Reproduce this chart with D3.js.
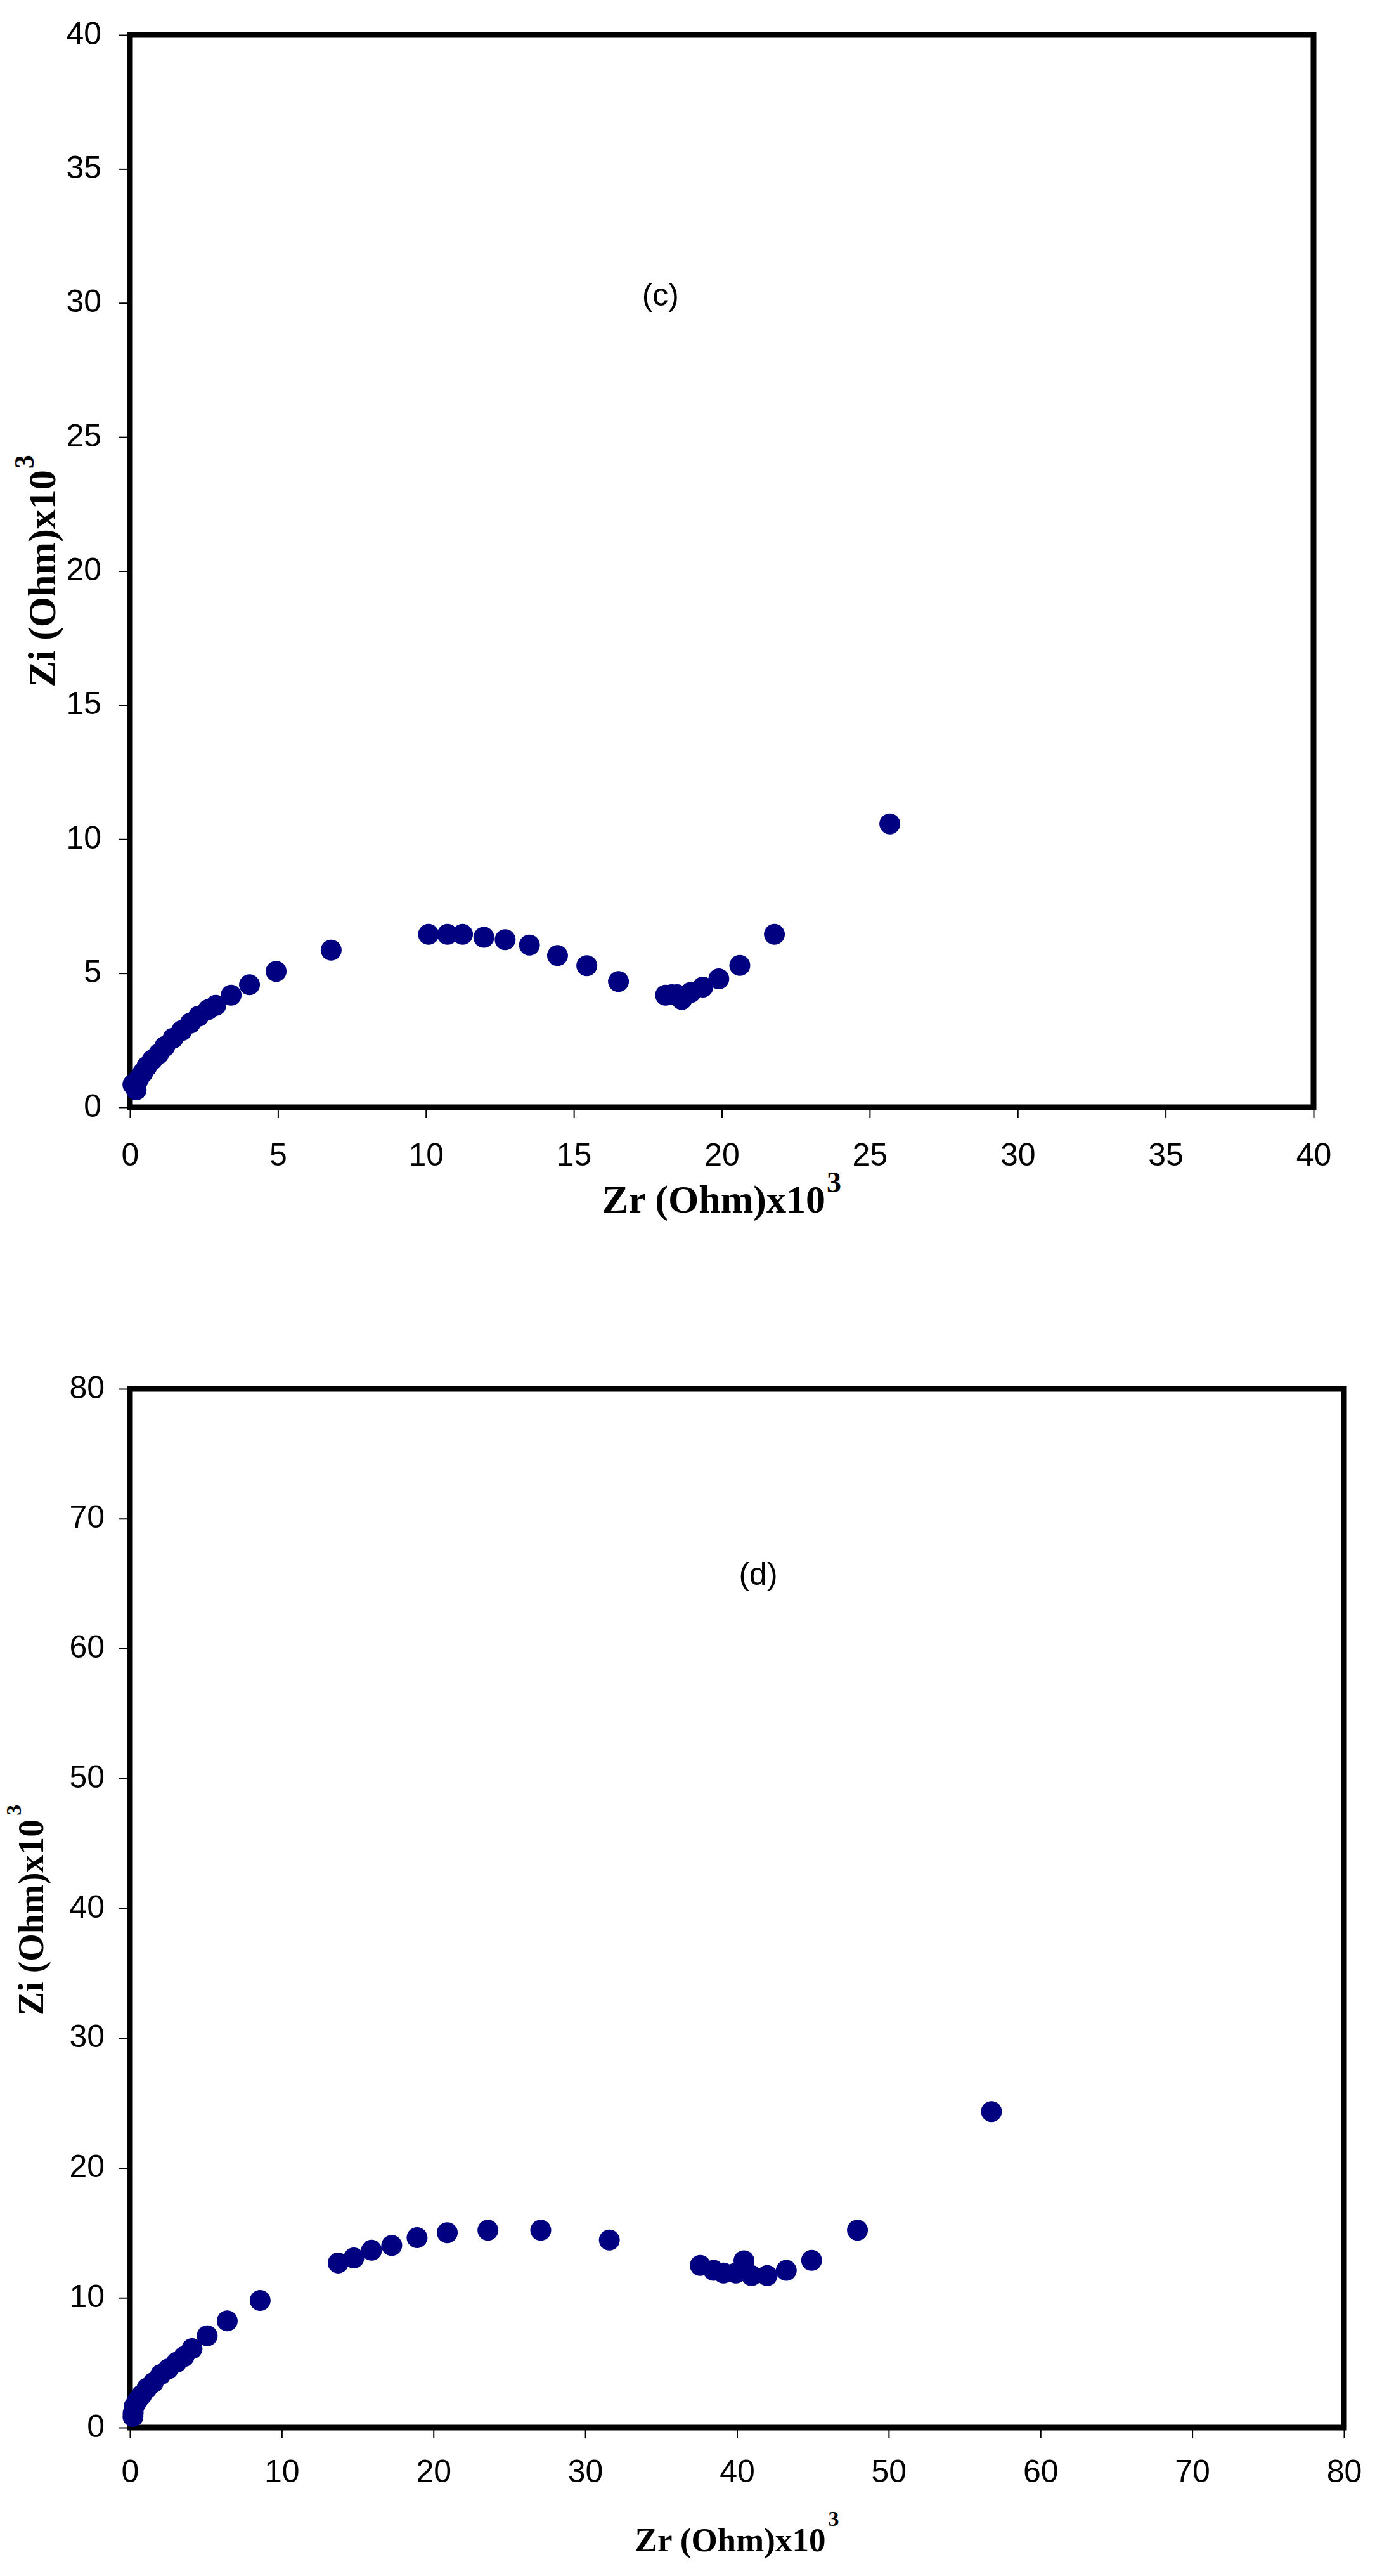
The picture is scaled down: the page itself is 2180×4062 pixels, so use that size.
<!DOCTYPE html>
<html>
<head>
<meta charset="utf-8">
<script src="https://cdnjs.cloudflare.com/ajax/libs/d3/7.8.5/d3.min.js"></script>
<style>
    body { margin: 0; background: #fff; }
    svg { display: block; }
</style>
</head>
<body>
<div id="chart"></div>
<script>
// (c) impedance data, Zr and Zi in Ohm x10^3
var zrC = [0.10, 0.21, 0.29, 0.43, 0.57, 0.75, 0.97, 1.18, 1.46, 1.75, 2.04, 2.32, 2.64, 2.90, 3.42, 4.04, 4.94, 6.80,
    10.09, 10.73, 11.24, 11.96, 12.68, 13.50, 14.45, 15.44, 16.51, 18.10, 18.31, 18.49, 18.65, 18.95, 19.36, 19.90, 20.61, 21.78, 25.68];
var ziC = [0.85, 0.65, 1.05, 1.28, 1.52, 1.76, 1.99, 2.27, 2.58, 2.86, 3.14, 3.40, 3.64, 3.80, 4.18, 4.57, 5.07, 5.86,
    6.45, 6.45, 6.45, 6.34, 6.25, 6.05, 5.66, 5.28, 4.69, 4.18, 4.20, 4.20, 4.02, 4.28, 4.48, 4.79, 5.29, 6.45, 10.57];

// (d) impedance data
var zrD = [0.20, 0.21, 0.28, 0.49, 0.77, 1.12, 1.53, 2.02, 2.51, 3.07, 3.56, 4.09, 5.09, 6.41, 8.58,
    13.72, 14.75, 15.92, 17.25, 18.92, 20.91, 23.59, 27.07, 31.59, 37.58, 38.46, 39.11, 39.93, 40.46, 40.96, 41.99, 43.25, 44.92, 47.94, 56.77];
var ziD = [0.85, 1.12, 1.64, 2.07, 2.51, 3.03, 3.46, 4.08, 4.51, 5.03, 5.47, 6.08, 7.07, 8.22, 9.79,
    12.68, 13.06, 13.66, 14.03, 14.63, 15.01, 15.20, 15.20, 14.44, 12.49, 12.11, 11.90, 11.90, 12.85, 11.71, 11.71, 12.11, 12.88, 15.20, 24.34];

// axis ticks
var ticksC = [0, 5, 10, 15, 20, 25, 30, 35, 40];
var ticksD = [0, 10, 20, 30, 40, 50, 60, 70, 80];

var W = 2180, H = 4062;

var svg = d3.select("#chart")
    .append("svg")
    .attr("width", W)
    .attr("height", H)
    .style("background", "#fff");

//draw one panel
function panel(opt) {
    var x = d3.scaleLinear().domain([0, opt.max]).range([opt.left, opt.right]);
    var y = d3.scaleLinear().domain([0, opt.max]).range([opt.bottom, opt.top]);
    var g = svg.append("g");

    //x axis
    var gx = g.append("g")
        .attr("transform", "translate(0," + opt.bottom + ")")
        .call(d3.axisBottom(x).tickValues(opt.ticks).tickSize(17).tickPadding(opt.xPad));
    //y axis
    var gy = g.append("g")
        .attr("transform", "translate(" + opt.left + ",0)")
        .call(d3.axisLeft(y).tickValues(opt.ticks).tickSize(18).tickPadding(opt.yPad));

    g.selectAll(".domain").remove();
    g.selectAll(".tick line").attr("stroke", "#000").attr("stroke-width", 2);
    g.selectAll(".tick text")
        .attr("fill", "#000")
        .style("font-family", "'Liberation Sans', Arial, sans-serif")
        .style("font-size", "50px");
    gy.selectAll(".tick text").attr("dy", "0.28em");

    //frame
    g.append("rect")
        .attr("x", opt.left)
        .attr("y", opt.top)
        .attr("width", opt.right - opt.left)
        .attr("height", opt.bottom - opt.top)
        .attr("fill", "none")
        .attr("stroke", "#000")
        .attr("stroke-width", 9);

    //points
    g.append("g")
        .selectAll("circle")
        .data(opt.zr)
        .enter().append("circle")
        .attr("cx", function (d) { return x(d); })
        .attr("cy", function (d, i) { return y(opt.zi[i]); })
        .attr("r", 16.5)
        .attr("fill", "#000080");

    //panel label
    g.append("text")
        .attr("x", x(opt.labelAt[0]))
        .attr("y", y(opt.labelAt[1]))
        .attr("text-anchor", "middle")
        .style("font-family", "'Liberation Sans', Arial, sans-serif")
        .style("font-size", "50px")
        .text(opt.label);

    //x title
    var xt = g.append("text")
        .attr("x", (opt.left + opt.right) / 2)
        .attr("y", opt.xTitleY)
        .attr("text-anchor", "middle")
        .style("font-family", "'Liberation Serif', 'Times New Roman', serif")
        .style("font-weight", "bold")
        .style("font-size", opt.xTitleSize + "px");
    xt.append("tspan").text("Zr (Ohm)x10");
    xt.append("tspan")
        .attr("dy", -opt.xSupRise)
        .attr("dx", opt.xSupGap)
        .style("font-size", opt.xSupSize + "px")
        .text("3");

    //y title
    var cy = (opt.top + opt.bottom) / 2 + opt.yTitleShift;
    var yt = g.append("text")
        .attr("transform", "translate(" + opt.yTitleX + "," + cy + ") rotate(-90)")
        .attr("text-anchor", "middle")
        .style("font-family", "'Liberation Serif', 'Times New Roman', serif")
        .style("font-weight", "bold")
        .style("font-size", opt.yTitleSize + "px");
    yt.append("tspan").text("Zi (Ohm)x10");
    yt.append("tspan")
        .attr("dy", -opt.ySupRise)
        .attr("dx", opt.ySupGap)
        .style("font-size", opt.ySupSize + "px")
        .text("3");
}

panel({
    max: 40, ticks: ticksC, zr: zrC, zi: ziC,
    left: 205, right: 2072, top: 55, bottom: 1746,
    xPad: 39, yPad: 27,
    label: "(c)", labelAt: [17.93, 29.9],
    xTitleY: 1912, xTitleSize: 62, xSupSize: 46, xSupRise: 32, xSupGap: 2,
    yTitleX: 87, yTitleShift: 0, yTitleSize: 62, ySupSize: 44, ySupRise: 34, ySupGap: 2
});

panel({
    max: 80, ticks: ticksD, zr: zrD, zi: ziD,
    left: 205, right: 2120, top: 2190, bottom: 3828,
    xPad: 33, yPad: 22,
    label: "(d)", labelAt: [41.4, 64.9],
    xTitleY: 4023, xTitleSize: 53, xSupSize: 34, xSupRise: 40, xSupGap: 4,
    yTitleX: 68, yTitleShift: 3, yTitleSize: 56, ySupSize: 34, ySupRise: 35, ySupGap: 6
});
</script>
</body>
</html>
